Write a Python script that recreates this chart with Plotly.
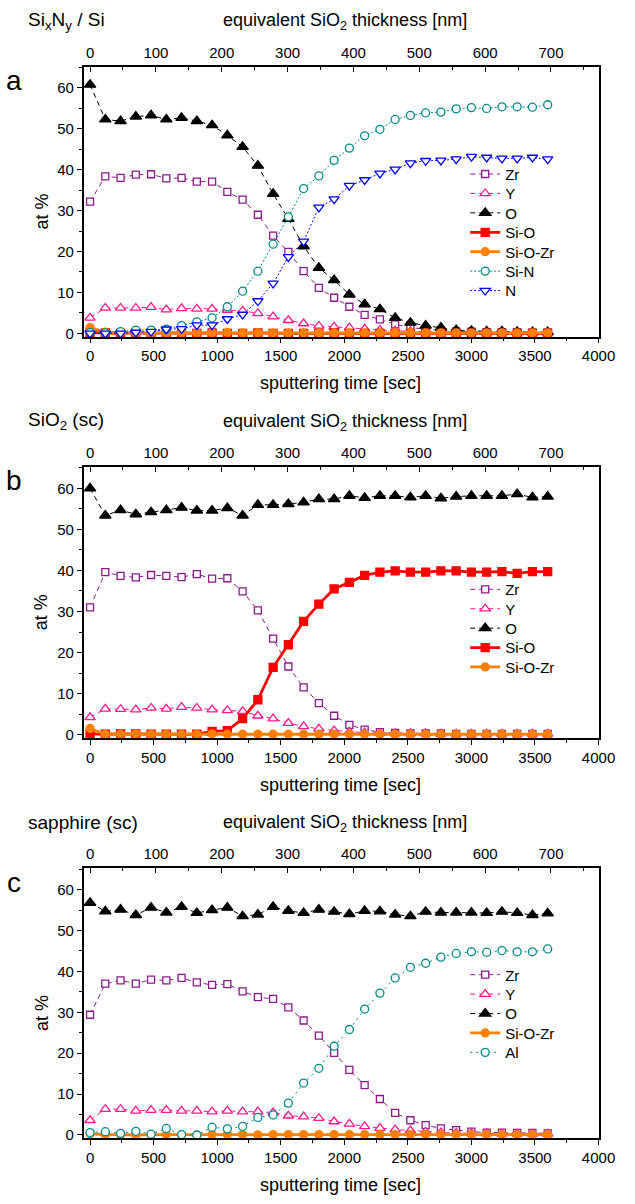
import plotly.graph_objects as go

W, H = 635, 1204

time_s = [0, 120, 240, 360, 480, 600, 720, 840, 960, 1080, 1200, 1320, 1440, 1560, 1680,
          1800, 1920, 2040, 2160, 2280, 2400, 2520, 2640, 2760, 2880, 3000, 3120, 3240,
          3360, 3480, 3600]

# ---- panel a: SixNy / Si
zr_a = [32.2, 38.4, 38.0, 38.8, 38.9, 37.9, 38.0, 37.1, 37.1, 34.6, 32.7, 29.0, 23.9, 19.9, 15.2,
        11.1, 8.7, 6.5, 4.5, 3.4, 2.2, 1.4, 1.0, 0.7, 0.5, 0.4, 0.3, 0.3, 0.3, 0.2, 0.2]
y_a = [3.8, 6.2, 6.2, 6.2, 6.4, 5.8, 6.1, 6.0, 6.0, 5.7, 5.5, 4.9, 4.1, 3.2, 2.4,
       1.8, 1.6, 1.4, 1.1, 0.8, 0.6, 0.5, 0.4, 0.3, 0.3, 0.3, 0.2, 0.2, 0.2, 0.2, 0.2]
o_a = [60.8, 52.3, 51.9, 53.0, 53.3, 52.3, 52.7, 51.9, 50.9, 48.4, 45.6, 41.0, 34.1, 28.0, 21.3,
       16.0, 13.0, 9.5, 7.1, 5.9, 3.8, 2.6, 1.9, 1.4, 0.8, 0.6, 0.5, 0.5, 0.4, 0.3, 0.3]
sio_a = [0.2, 0.1, 0.0, 0.1, 0.0, 0.1, 0.0, 0.0, 0.1, 0.0, 0.0, 0.1, 0.0, 0.0, 0.0,
         0.0, 0.1, 0.0, 0.0, 0.0, 0.0, 0.0, 0.0, 0.0, 0.0, 0.0, 0.0, 0.0, 0.0, 0.0, 0.0]
siozr_a = [1.4, 0.3, 0.2, 0.1, 0.1, 0.1, 0.1, 0.1, 0.1, 0.2, 0.1, 0.1, 0.1, 0.1, 0.1,
           0.1, 0.1, 0.1, 0.1, 0.1, 0.1, 0.1, 0.1, 0.1, 0.1, 0.1, 0.1, 0.1, 0.1, 0.1, 0.1]
sin_a = [0.2, 0.1, 0.4, 0.8, 0.8, 1.0, 1.9, 2.8, 3.8, 6.5, 10.3, 15.2, 21.8, 28.5, 35.4,
         38.5, 42.3, 45.3, 48.3, 49.9, 52.3, 53.3, 53.9, 54.1, 54.9, 55.2, 55.0, 55.4, 55.4, 55.3, 55.9]
n_a = [0.0, 0.0, 0.0, 0.2, 0.4, 1.0, 1.1, 2.0, 2.0, 3.5, 4.6, 7.9, 12.2, 18.7, 22.5,
       30.8, 32.8, 36.1, 37.5, 39.1, 40.1, 41.6, 42.2, 42.3, 42.6, 43.2, 43.0, 42.8, 42.8, 43.0, 42.6]

# ---- panel b: SiO2 (sc)
zr_b = [31.0, 39.6, 38.7, 38.3, 38.9, 38.7, 38.4, 39.1, 38.0, 38.1, 34.9, 30.3, 23.4, 16.6, 11.5,
        7.7, 4.6, 2.4, 1.2, 0.6, 0.4, 0.3, 0.3, 0.3, 0.2, 0.2, 0.2, 0.2, 0.2, 0.2, 0.2]
y_b = [4.2, 6.3, 6.2, 6.1, 6.5, 6.3, 6.7, 6.5, 6.1, 5.9, 5.7, 4.6, 3.9, 2.8, 2.0,
       1.4, 1.0, 0.7, 0.5, 0.4, 0.3, 0.3, 0.3, 0.2, 0.2, 0.2, 0.2, 0.2, 0.2, 0.2, 0.2]
o_b = [60.0, 53.4, 54.7, 53.7, 54.2, 54.7, 55.3, 54.6, 54.6, 55.2, 53.4, 56.0, 56.0, 56.2, 56.6,
       57.4, 57.4, 58.2, 57.7, 58.2, 58.2, 57.8, 58.2, 57.6, 58.0, 58.2, 58.2, 58.2, 58.6, 57.8, 58.0]
sio_b = [0.2, 0.1, 0.2, 0.2, 0.1, 0.1, 0.1, 0.1, 0.8, 1.0, 3.9, 8.5, 16.4, 21.9, 27.6,
         31.8, 35.5, 37.1, 38.8, 39.6, 39.9, 39.6, 39.6, 39.9, 39.9, 39.6, 39.6, 39.7, 39.3, 39.7, 39.7]
siozr_b = [1.5, 0.1, 0.1, 0.2, 0.1, 0.1, 0.1, 0.1, 0.2, 0.1, 0.1, 0.1, 0.1, 0.1, 0.1,
           0.1, 0.1, 0.1, 0.1, 0.1, 0.1, 0.1, 0.1, 0.1, 0.1, 0.1, 0.1, 0.1, 0.1, 0.1, 0.1]

# ---- panel c: sapphire (sc)
zr_c = [29.4, 37.0, 37.8, 37.0, 38.0, 37.8, 38.4, 37.3, 36.7, 36.9, 35.1, 33.7, 33.3, 31.2, 28.0,
        24.3, 20.1, 15.9, 12.2, 8.8, 5.4, 3.6, 2.4, 1.6, 1.2, 0.8, 0.6, 0.6, 0.5, 0.5, 0.4]
y_c = [3.6, 6.3, 6.3, 5.9, 6.1, 6.1, 5.9, 5.9, 5.7, 5.9, 5.7, 5.7, 5.5, 4.7, 4.5,
       4.1, 3.3, 2.7, 2.1, 1.7, 1.3, 1.1, 0.8, 0.6, 0.5, 0.4, 0.4, 0.3, 0.3, 0.3, 0.3]
o_c = [56.8, 54.7, 55.1, 53.8, 55.6, 54.4, 55.8, 54.3, 55.0, 55.6, 53.5, 53.9, 55.8, 54.8, 54.3,
       55.1, 54.6, 54.0, 54.8, 54.7, 53.9, 53.5, 54.6, 54.4, 54.4, 54.4, 54.3, 54.6, 54.3, 53.8, 54.2]
siozr_c = [0.3, 0.1, 0.1, 0.0, 0.1, 0.1, 0.1, 0.0, 0.1, 0.1, 0.1, 0.0, 0.1, 0.1, 0.1,
           0.1, 0.1, 0.1, 0.1, 0.1, 0.1, 0.1, 0.1, 0.1, 0.1, 0.1, 0.1, 0.1, 0.1, 0.1, 0.1]
al_c = [0.6, 0.8, 0.4, 0.9, 0.2, 1.6, 0.1, 0.0, 1.9, 1.5, 2.1, 4.3, 4.9, 7.8, 12.7,
        16.3, 21.7, 25.8, 30.8, 34.7, 38.4, 41.0, 42.0, 43.5, 44.4, 44.8, 44.7, 45.1, 44.8, 44.8, 45.5]

panel_titles = ["Si<sub>x</sub>N<sub>y</sub> / Si", "SiO<sub>2</sub> (sc)", "sapphire (sc)"]
panel_letters = ["a", "b", "c"]
top_title = "equivalent SiO<sub>2</sub> thickness [nm]"
bottom_title = "sputtering time [sec]"
y_title = "at %"

SEC_PER_NM = 5.18
X_RANGE = [-50, 4000]
Y_RANGE = [-0.8, 65.2]

FONT = "Arial, Liberation Sans, sans-serif"

# pixel geometry of each plot box (top, bottom) and x extent
X_LEFT, X_RIGHT = 86, 615
boxes = [(67, 338), (469, 741), (872, 1143)]
legend_first = [175, 592, 979]
LEGEND_STEP = 19.5
LEGEND_X = 478

def px_x(p):
    return p / W

def px_y(p):
    return 1 - p / H

STY = {
    "Zr": dict(color="#8b1a8b", dash="5px,4px", width=1, symbol="square", size=7, fill="white"),
    "Y": dict(color="#ff1a8c", dash="5px,4px", width=1, symbol="triangle-up", size=9, fill="white"),
    "O": dict(color="#000000", dash="5px,4px", width=1, symbol="triangle-up", size=10, fill="#000000"),
    "Si-O": dict(color="#ff0000", dash="solid", width=2.8, symbol="square", size=8, fill="#ff0000"),
    "Si-O-Zr": dict(color="#ff8000", dash="solid", width=2.8, symbol="circle", size=8, fill="#ff8000"),
    "Si-N": dict(color="#008b8b", dash="2px,2px", width=1, symbol="circle", size=8, fill="white"),
    "N": dict(color="#0000ff", dash="2px,2px", width=1, symbol="triangle-down", size=9, fill="white"),
    "Al": dict(color="#008b8b", dash="2px,4px", width=1, symbol="circle", size=8, fill="white"),
}

panels = [
    [("Zr", zr_a), ("Y", y_a), ("O", o_a), ("Si-O", sio_a), ("Si-O-Zr", siozr_a), ("Si-N", sin_a), ("N", n_a)],
    [("Zr", zr_b), ("Y", y_b), ("O", o_b), ("Si-O", sio_b), ("Si-O-Zr", siozr_b)],
    [("Zr", zr_c), ("Y", y_c), ("O", o_c), ("Si-O-Zr", siozr_c), ("Al", al_c)],
]

fig = go.Figure()
annotations = []
layout = {}
tickfont = dict(family=FONT, size=15, color="black")
nm_values = [t / SEC_PER_NM for t in time_s]

leg_count = 0
for i, series in enumerate(panels):
    top, bot = boxes[i]
    xb = "x" if i == 0 else f"x{2*i+1}"
    xt = f"x{2*i+2}"
    yname = "y" if i == 0 else f"y{i+1}"
    for k, (name, vals) in enumerate(series):
        s = STY[name]
        leg_count += 1
        lname = "legend" if leg_count == 1 else f"legend{leg_count}"
        fig.add_trace(go.Scatter(
            x=time_s, y=vals, name=name, mode="lines+markers",
            xaxis=xb, yaxis=yname, legend=lname,
            line=dict(color=s["color"], width=s["width"], dash=s["dash"]),
            marker=dict(symbol=s["symbol"], size=s["size"], color=s["fill"],
                        line=dict(color=s["color"], width=1.3)),
            cliponaxis=False,
        ))
        layout[lname] = dict(
            x=px_x(LEGEND_X), y=px_y(legend_first[i] + k * LEGEND_STEP),
            xanchor="left", yanchor="middle",
            bgcolor="rgba(0,0,0,0)", font=dict(family=FONT, size=15, color="black"),
            itemwidth=30, borderwidth=0,
        )
    # invisible companion trace so that the top (nm) axis is drawn
    fig.add_trace(go.Scatter(
        x=nm_values, y=[None] * len(nm_values), xaxis=xt, yaxis=yname,
        mode="markers", marker=dict(opacity=0), showlegend=False, hoverinfo="skip",
    ))
    xb_key = "xaxis" if i == 0 else f"xaxis{2*i+1}"
    xt_key = f"xaxis{2*i+2}"
    yk = "yaxis" if i == 0 else f"yaxis{i+1}"
    dom_x = [px_x(X_LEFT), px_x(X_RIGHT)]
    dom_y = [px_y(bot), px_y(top)]
    layout[xb_key] = dict(
        domain=dom_x, anchor=yname, range=X_RANGE, dtick=500, tick0=0,
        ticks="outside", ticklen=5, tickwidth=1.2, tickcolor="black",
        minor=dict(dtick=250, ticks="outside", ticklen=3, tickwidth=1.2, tickcolor="black"),
        showline=True, linecolor="black", linewidth=1.5, mirror=True,
        showgrid=False, zeroline=False, tickfont=tickfont,
    )
    layout[xt_key] = dict(
        overlaying=xb, anchor=yname, side="top",
        range=[X_RANGE[0] / SEC_PER_NM, X_RANGE[1] / SEC_PER_NM], dtick=100, tick0=0,
        ticks="inside", ticklen=5, tickwidth=1.2, tickcolor="black",
        minor=dict(dtick=50, ticks="inside", ticklen=3, tickwidth=1.2, tickcolor="black"),
        showline=False, showgrid=False, zeroline=False, tickfont=tickfont,
        ticklabelstandoff=5,
    )
    layout[yk] = dict(
        domain=dom_y, anchor=xb, range=Y_RANGE, dtick=10, tick0=0,
        ticks="outside", ticklen=5, tickwidth=1.2, tickcolor="black",
        minor=dict(dtick=5, ticks="outside", ticklen=3, tickwidth=1.2, tickcolor="black"),
        showline=True, linecolor="black", linewidth=1.5, mirror=True,
        showgrid=False, zeroline=False, tickfont=tickfont,
    )
    # texts
    annotations.append(dict(text=panel_titles[i], x=px_x(27), y=px_y(top - 46), xref="paper", yref="paper",
                            xanchor="left", yanchor="middle", showarrow=False,
                            font=dict(family=FONT, size=19, color="black")))
    annotations.append(dict(text=top_title, x=px_x(354), y=px_y(top - 45), xref="paper", yref="paper",
                            xanchor="center", yanchor="middle", showarrow=False,
                            font=dict(family=FONT, size=18, color="black")))
    annotations.append(dict(text=panel_letters[i], x=px_x(14), y=px_y(top + 14), xref="paper", yref="paper",
                            xanchor="center", yanchor="middle", showarrow=False,
                            font=dict(family=FONT, size=28, color="black")))
    annotations.append(dict(text=bottom_title, x=px_x(350), y=px_y(bot + 47), xref="paper", yref="paper",
                            xanchor="center", yanchor="middle", showarrow=False,
                            font=dict(family=FONT, size=18, color="black")))
    annotations.append(dict(text=y_title, x=px_x(43), y=px_y((top + bot) / 2 + 10), xref="paper", yref="paper",
                            xanchor="center", yanchor="middle", showarrow=False, textangle=-90,
                            font=dict(family=FONT, size=18, color="black")))

fig.update_layout(
    width=W, height=H, margin=dict(l=0, r=0, t=0, b=0),
    paper_bgcolor="white", plot_bgcolor="white",
    annotations=annotations, showlegend=True,
    **layout,
)

fig.write_html("out.html")
